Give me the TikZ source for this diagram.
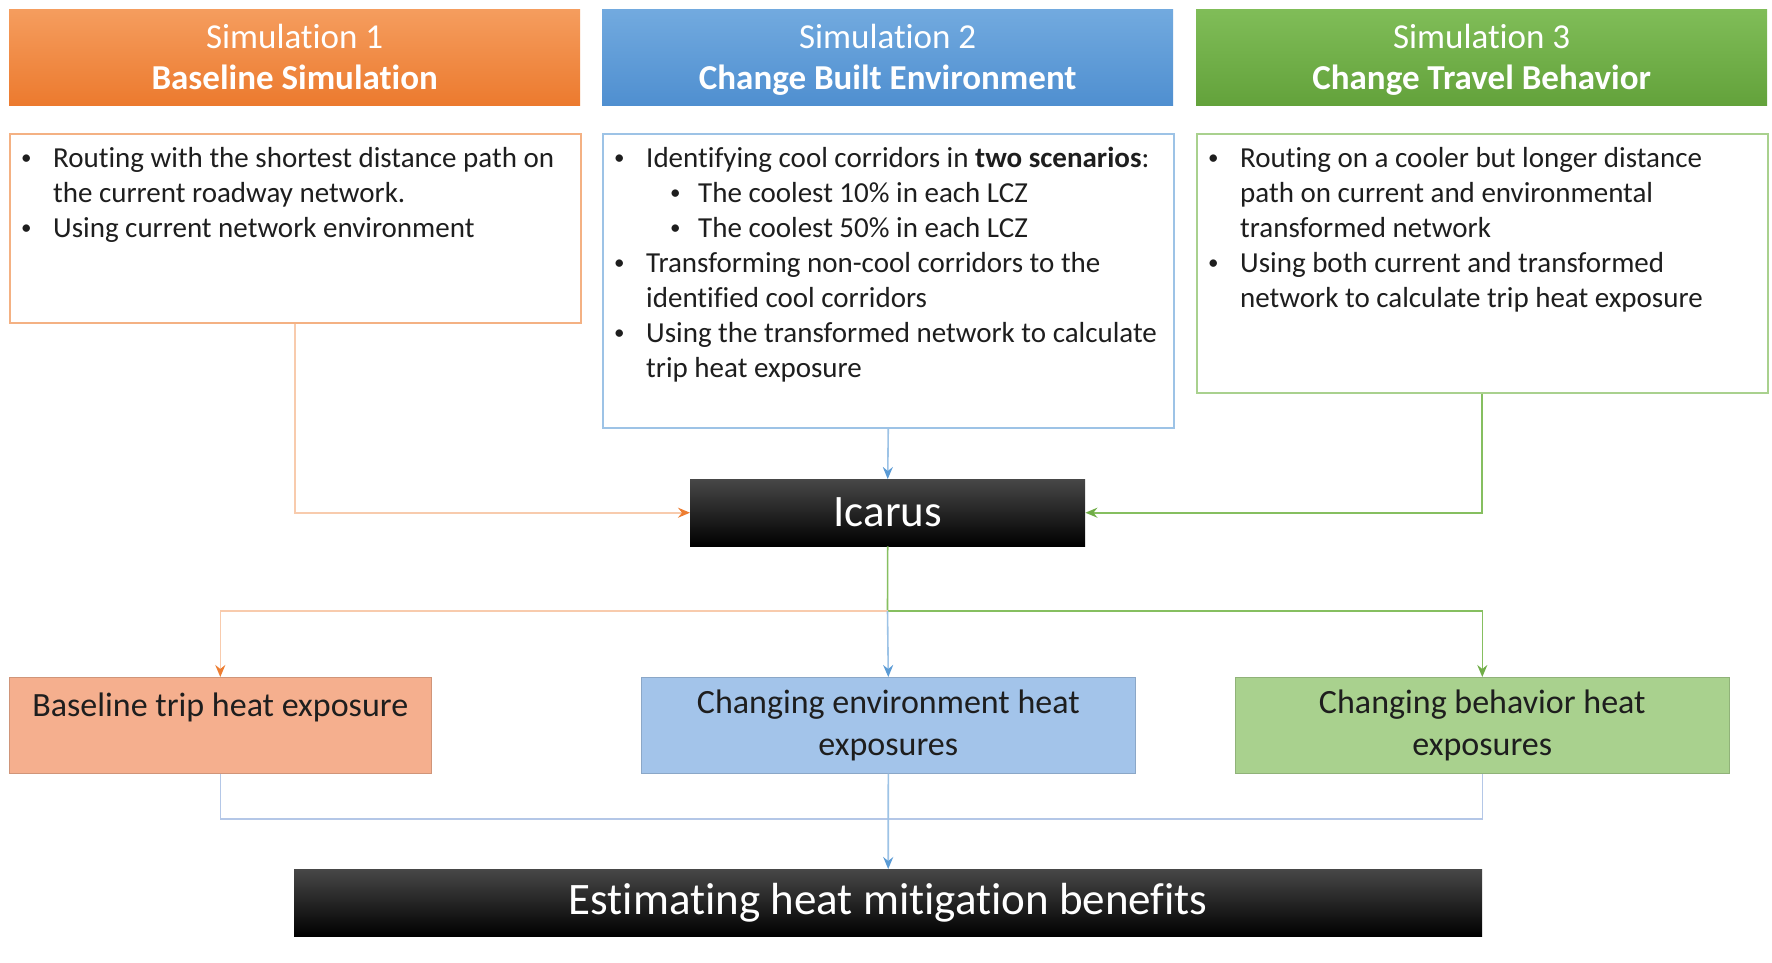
\documentclass[tikz,border=0pt]{standalone}
\usepackage{fontspec}
\setmainfont{Carlito}[Ligatures={NoCommon}]
\usetikzlibrary{arrows.meta}
\definecolor{orTop}{HTML}{F59D5E}
\definecolor{orBot}{HTML}{EC7A2E}
\definecolor{blTop}{HTML}{72AADF}
\definecolor{blBot}{HTML}{4F8FD0}
\definecolor{grTop}{HTML}{80BD58}
\definecolor{grBot}{HTML}{63A23B}
\definecolor{orLine}{HTML}{F4B183}
\definecolor{blLine}{HTML}{9DC3E6}
\definecolor{grLine}{HTML}{A9D18E}
\definecolor{orConn}{HTML}{F8CBAD}
\definecolor{blConn}{HTML}{9DC3E6}
\definecolor{grConn}{HTML}{86BF60}
\definecolor{orTip}{HTML}{ED7D31}
\definecolor{blTip}{HTML}{5B9BD5}
\definecolor{grTip}{HTML}{70AD47}
\definecolor{bgConn}{HTML}{B4C7E7}
\definecolor{orFill}{HTML}{F5AF8E}
\definecolor{blFill}{HTML}{A3C4EA}
\definecolor{grFill}{HTML}{A9D18E}
\definecolor{txt}{HTML}{1E1E1E}
\newcommand\smallbul{\raisebox{3pt}{\fontsize{21}{21}\selectfont\textbullet}}
\newcommand\bitm[1]{\par\noindent\hangindent=35pt\hangafter=1\makebox[35pt][l]{\hspace*{3pt}\smallbul}#1\par}
\newcommand\bsubitm[1]{\par\noindent\hangindent=87pt\hangafter=1\hspace*{59pt}\makebox[28pt][l]{\smallbul}#1\par}
\newcommand\nodepth[1]{\raisebox{0pt}[\height][0pt]{#1}}
\begin{document}
\begin{tikzpicture}[x=1pt,y=-1pt,
  hdr/.style={draw=none, inner sep=0, minimum width=571, minimum height=96, anchor=north west,
    align=center, text=white, font=\fontsize{35}{41}\selectfont},
  bodybox/.style={draw=#1, line width=1.5pt, fill=white, inner sep=0, minimum width=571, anchor=north west},
  bodytext/.style={anchor=base west, inner sep=0, text=txt, font=\fontsize{29}{35}\selectfont},
  blackbox/.style={inner sep=0, anchor=north west, text=white, top color=black!72, middle color=black, bottom color=black,
    font=\fontsize{45}{54}\selectfont},
  resbox/.style={fill=#1, draw=#1!85!black, line width=0.6pt, inner sep=0, minimum height=96, anchor=north west,
    align=center, text=txt, font=\fontsize{34}{42}\selectfont},
  conn/.style={draw=#1, line width=1.6pt},
  tipO/.style={-{Stealth[length=12pt,width=10pt,inset=4pt,color=orTip]}},
  tipB/.style={-{Stealth[length=12pt,width=10pt,inset=4pt,color=blTip]}},
  tipG/.style={-{Stealth[length=12pt,width=10pt,inset=4pt,color=grTip]}}
]
\useasboundingbox[fill=white] (0,0) rectangle (1772,962);

% headers
\node[hdr, top color=orTop, bottom color=orBot] (h1) at (9,9) {Simulation 1\\\nodepth{\textbf{Baseline Simulation}}};
\node[hdr, top color=blTop, bottom color=blBot] (h2) at (602,9) {Simulation 2\\\nodepth{\textbf{Change Built Environment}}};
\node[hdr, top color=grTop, bottom color=grBot] (h3) at (1196,9) {Simulation 3\\\nodepth{\textbf{Change Travel Behavior}}};

% body boxes
\node[bodybox=orLine, minimum height=189] (b1) at (9,133) {};
\node[bodybox=blLine, minimum height=294] (b2) at (602,133) {};
\node[bodybox=grLine, minimum height=259] (b3) at (1196,133) {};

\node[bodytext] (t1) at (18,167) {\parbox[t]{700pt}{%
  \bitm{Routing with the shortest distance path on\newline the current roadway network.}%
  \bitm{Using current network environment}}};
\node[bodytext] (t2) at (611,167) {\parbox[t]{700pt}{%
  \bitm{Identifying cool corridors in \textbf{two scenarios}:}%
  \bsubitm{The coolest 10\% in each LCZ}%
  \bsubitm{The coolest 50\% in each LCZ}%
  \bitm{Transforming non-cool corridors to the\newline identified cool corridors}%
  \bitm{Using the transformed network to calculate\newline trip heat exposure}}};
\node[bodytext] (t3) at (1205,167) {\parbox[t]{700pt}{%
  \bitm{Routing on a cooler but longer distance\newline path on current and environmental\newline transformed network}%
  \bitm{Using both current and transformed\newline network to calculate trip heat exposure}}};

% Icarus
\node[blackbox, minimum width=395, minimum height=67] (ic) at (690,479) {Icarus};

% result boxes
\node[resbox=orFill, minimum width=422] (lb) at (9,677) {Baseline trip heat exposure\\\mbox{}};
\node[resbox=blFill, minimum width=494] (le) at (641,677) {Changing environment heat\\exposures};
\node[resbox=grFill, minimum width=494] (lg) at (1235,677) {Changing behavior heat\\exposures};

% final box
\node[blackbox, minimum width=1188, minimum height=67] (est) at (294,869) {Estimating heat mitigation benefits};

% connectors
\draw[conn=orConn, tipO] (b1.south) |- (ic.west);
\draw[conn=blConn, tipB] (b2.south) -- (ic.north);
\draw[conn=grConn, tipG] (b3.south) |- (ic.east);

\coordinate (j) at (887.5,611);
\draw[conn=grConn] (ic.south) -- (j);
\draw[conn=orConn, tipO] (j) -| (lb.north);
\draw[conn=grConn, tipG] (j) -| (lg.north);
\draw[conn=blConn, tipB] (j) -- (le.north);

\coordinate (bot) at (887.5,819);
\draw[conn=bgConn] (lb.south) |- (bot) -| (lg.south);
\draw[conn=blConn, tipB] (le.south) -- (est.north);
\end{tikzpicture}
\end{document}
